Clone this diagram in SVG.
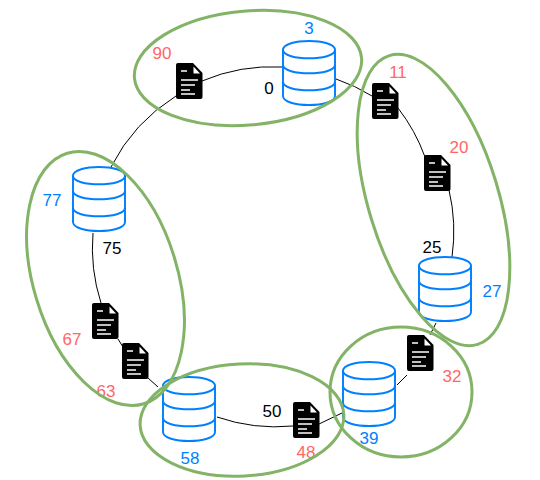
<svg xmlns="http://www.w3.org/2000/svg" xmlns:xlink="http://www.w3.org/1999/xlink" width="540" height="480" viewBox="0 0 540 480">
<style>
.ring{fill:none;stroke:#82b366;stroke-width:3}
.conn{fill:none;stroke:#000;stroke-width:1}
.db{fill:none;stroke:#007fff;stroke-width:2}
text{font-family:"Liberation Sans",Arial,sans-serif;font-size:17px;text-anchor:middle}
.k{fill:#000}.b{fill:#007fff}.r{fill:#ff6666}
</style>
<defs>
<g id="cyl" class="db">
<path d="M0 9C0 -3 54 -3 54 9V55C54 67 0 67 0 55Z" transform="translate(1 0) scale(.963 1)"/>
<path d="M1 9C1 20 53 20 53 9M1 24C1 35 53 35 53 24M1 41C1 52 53 52 53 41"/>
</g>
<g id="doc">
<path d="M2 0H17L26.500 10V34Q26.500 36 24.500 36H2Q0 36 0 34V2Q0 0 2 0Z" fill="#000"/>
<path d="M17.500 3.500L24 10.500H17.500Z" fill="#fff"/>
<path d="M5 8H11M5 17H22M5 22H19M5 27H14M5 31H19" stroke="#fff" stroke-width="1.300" fill="none"/>
</g>
</defs>
<g id="connectors">
<path class="conn" d="M111 167A180 180 0 0 1 176 96"/>
<path class="conn" d="M202 81A180 180 0 0 1 282 67"/>
<path class="conn" d="M336 79A180 180 0 0 1 372 96"/>
<path class="conn" d="M398 108A180 180 0 0 1 425 157"/>
<path class="conn" d="M449 190A180 180 0 0 1 452 257"/>
<path class="conn" d="M436 323L430 335"/>
<path class="conn" d="M407 375L397 385"/>
<path class="conn" d="M319 424L342 413"/>
<path class="conn" d="M217 417A180 180 0 0 0 293 426"/>
<path class="conn" d="M148 378L158 387"/>
<path class="conn" d="M118 339L123 347"/>
<path class="conn" d="M93 233A180 180 0 0 0 101 303"/>
</g>
<g id="node-3"><use xlink:href="#cyl" href="#cyl" x="282" y="41"/><text class="b" x="309" y="34">3</text></g>
<g id="node-27"><use xlink:href="#cyl" href="#cyl" x="418" y="257"/><text class="b" x="492" y="297">27</text></g>
<g id="node-39"><use xlink:href="#cyl" href="#cyl" x="342" y="362"/><text class="b" x="369" y="444">39</text></g>
<g id="node-58"><use xlink:href="#cyl" href="#cyl" x="162" y="377"/><text class="b" x="190" y="464">58</text></g>
<g id="node-77"><use xlink:href="#cyl" href="#cyl" x="72" y="167"/><text class="b" x="52" y="206">77</text></g>
<g id="doc-90"><use xlink:href="#doc" href="#doc" x="176" y="63"/><text class="r" x="162" y="59">90</text></g>
<g id="doc-11"><use xlink:href="#doc" href="#doc" x="372" y="83"/><text class="r" x="398" y="78">11</text></g>
<g id="doc-20"><use xlink:href="#doc" href="#doc" x="424" y="155"/><text class="r" x="459" y="153">20</text></g>
<g id="doc-32"><use xlink:href="#doc" href="#doc" x="407" y="335"/><text class="r" x="452" y="382">32</text></g>
<g id="doc-48"><use xlink:href="#doc" href="#doc" x="293" y="402"/><text class="r" x="306" y="458">48</text></g>
<g id="doc-63"><use xlink:href="#doc" href="#doc" x="122" y="343"/><text class="r" x="106" y="397">63</text></g>
<g id="doc-67"><use xlink:href="#doc" href="#doc" x="92" y="303"/><text class="r" x="72" y="345">67</text></g>
<g id="label-0"><text class="k" x="269" y="94">0</text></g>
<g id="label-25"><text class="k" x="432" y="253">25</text></g>
<g id="label-50"><text class="k" x="272" y="417">50</text></g>
<g id="label-75"><text class="k" x="112" y="254">75</text></g>
<g id="group-top"><ellipse class="ring" cx="248" cy="68" rx="114" ry="57" transform="rotate(-5 248 68)"/></g>
<g id="group-right"><ellipse class="ring" cx="433.500" cy="200" rx="65" ry="151" transform="rotate(-17 433.500 200)"/></g>
<g id="group-lower-right"><ellipse class="ring" cx="401" cy="392" rx="71" ry="65"/></g>
<g id="group-bottom"><ellipse class="ring" cx="242" cy="420" rx="102" ry="56" transform="rotate(-3 242 420)"/></g>
<g id="group-left"><ellipse class="ring" cx="105.500" cy="278.500" rx="72" ry="131" transform="rotate(-17 105.500 278.500)"/></g>
</svg>
